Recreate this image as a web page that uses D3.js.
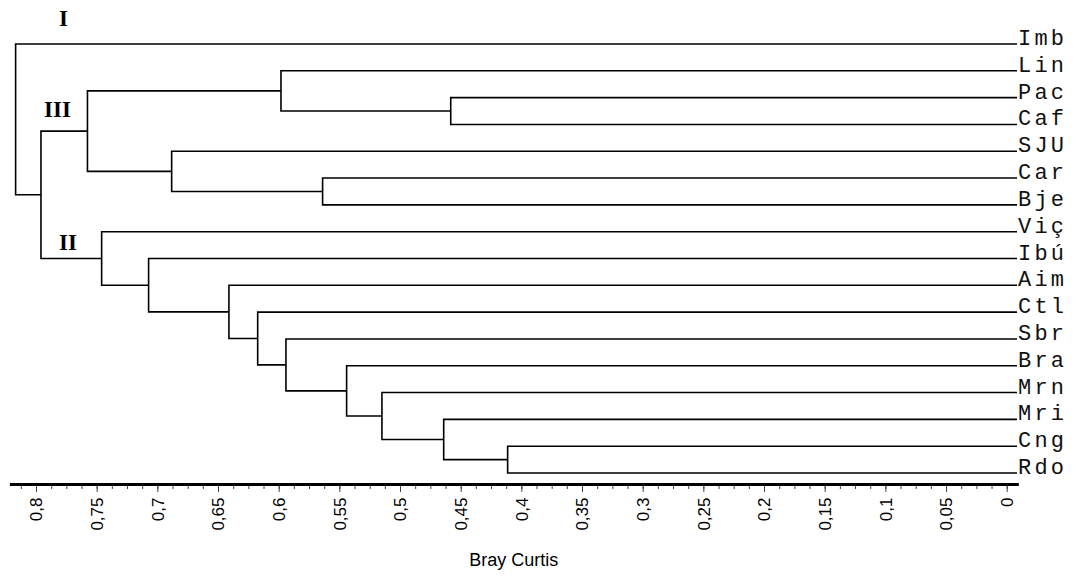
<!DOCTYPE html>
<html>
<head>
<meta charset="utf-8">
<script src="https://cdn.jsdelivr.net/npm/d3@7"></script>
<style>
  body { margin: 0; background: #fff; }
  svg { display: block; }
</style>
</head>
<body>
<div id="chart"></div>
<script>
// leaves, top to bottom
const leaves = ["Imb", "Lin", "Pac", "Caf", "SJU", "Car", "Bje", "Viç", "Ibú",
  "Aim", "Ctl", "Sbr", "Bra", "Mrn", "Mri", "Cng", "Rdo"];

// merges: [a, b], indices 0-16 are leaves, 17+ are earlier merges in order
const merges = [
  [15, 16], [2, 3], [14, 17], [13, 19], [12, 20], [5, 6], [11, 21], [1, 18],
  [10, 23], [9, 25], [4, 22], [8, 26], [7, 28], [24, 27], [30, 29], [0, 31]
];
// Bray Curtis distance for each merge
const heights = [
  0.4113, 0.4582, 0.4640, 0.5149, 0.5440, 0.5638, 0.5940, 0.5981,
  0.6173, 0.6410, 0.6882, 0.7072, 0.7459, 0.7576, 0.7959, 0.8168
];

const tickValues = [0.8, 0.75, 0.7, 0.65, 0.6, 0.55, 0.5, 0.45, 0.4, 0.35, 0.3,
  0.25, 0.2, 0.15, 0.1, 0.05, 0];
const minorStep = 0.0125;
const groupNames = ["I", "III", "II"];

const width = 1085, height = 582;

var svg = d3.select("#chart").append("svg")
  .attr("width", width)
  .attr("height", height);

var x = d3.scaleLinear().domain([0.8, 0]).range([36, 1006.7]);
var y = d3.scalePoint().domain(leaves).range([44, 473]);
var leafEnd = 1017;

// node positions
var nodes = leaves.map(function(d) { return {x: leafEnd, y: y(d), h: 0}; });
merges.forEach(function(m, i) {
  var a = nodes[m[0]], b = nodes[m[1]];
  nodes.push({x: x(heights[i]), y: (a.y + b.y) / 2, h: heights[i], kids: [a, b]});
});

var tree = svg.append("g")
  .attr("fill", "none")
  .attr("stroke", "#000")
  .attr("stroke-width", 1.6);

nodes.filter(function(n) { return n.kids; }).forEach(function(n) {
  var a = n.kids[0], b = n.kids[1];
  tree.append("path")
    .attr("d", "M" + a.x + "," + a.y + "H" + n.x + "V" + b.y + "H" + b.x);
});

// leaf labels
svg.append("g").selectAll("text")
  .data(leaves)
  .enter().append("text")
  .attr("x", leafEnd + 1)
  .attr("y", function(d) { return y(d) + 1; })
  .attr("font-family", "'Courier New', 'Liberation Mono', monospace")
  .attr("font-size", 22)
  .attr("letter-spacing", 3.2)
  .attr("fill", "#111")
  .text(function(d) { return d; });

// axis
var locale = d3.formatLocale({decimal: ",", thousands: ".", grouping: [3], currency: ["", ""]});
var fmt = locale.format("~g");
var axisY = 484.5;

var minorTicks = d3.range(Math.round(0.8125 / minorStep), -1, -1).map(function(i) { return i * minorStep; });

svg.append("g")
  .attr("transform", "translate(0," + axisY + ")")
  .call(d3.axisBottom(x).tickValues(minorTicks).tickSize(4.5).tickFormat(""))
  .call(function(g) { g.select(".domain").remove(); })
  .selectAll("line").attr("stroke", "#444");

var axis = svg.append("g")
  .attr("transform", "translate(0," + axisY + ")")
  .call(d3.axisBottom(x).tickValues(tickValues).tickSize(7.5).tickFormat(fmt));
axis.select(".domain").remove();
axis.selectAll("line").attr("stroke", "#444");
axis.selectAll("text")
  .attr("font-family", "Arial, 'Liberation Sans', sans-serif")
  .attr("font-size", 17)
  .attr("fill", "#000")
  .attr("transform", "rotate(-90)")
  .attr("text-anchor", "end")
  .attr("x", -13)
  .attr("y", 0)
  .attr("dy", "0.35em");

svg.append("line")
  .attr("x1", x(0.8215)).attr("x2", x(-0.01))
  .attr("y1", axisY).attr("y2", axisY)
  .attr("stroke", "#000")
  .attr("stroke-width", 3);

svg.append("text")
  .attr("x", 513.7)
  .attr("y", 566)
  .attr("text-anchor", "middle")
  .attr("font-family", "Arial, 'Liberation Sans', sans-serif")
  .attr("font-size", 18)
  .text("Bray Curtis");

// group numerals
var groupPos = [[63.4, 25.7], [57.5, 117.3], [68, 250]];
svg.append("g").selectAll("text")
  .data(groupNames)
  .enter().append("text")
  .attr("x", function(d, i) { return groupPos[i][0]; })
  .attr("y", function(d, i) { return groupPos[i][1]; })
  .attr("text-anchor", "middle")
  .attr("font-family", "'Times New Roman', 'Liberation Serif', serif")
  .attr("font-weight", "bold")
  .attr("font-size", 23)
  .text(function(d) { return d; });
</script>
</body>
</html>
